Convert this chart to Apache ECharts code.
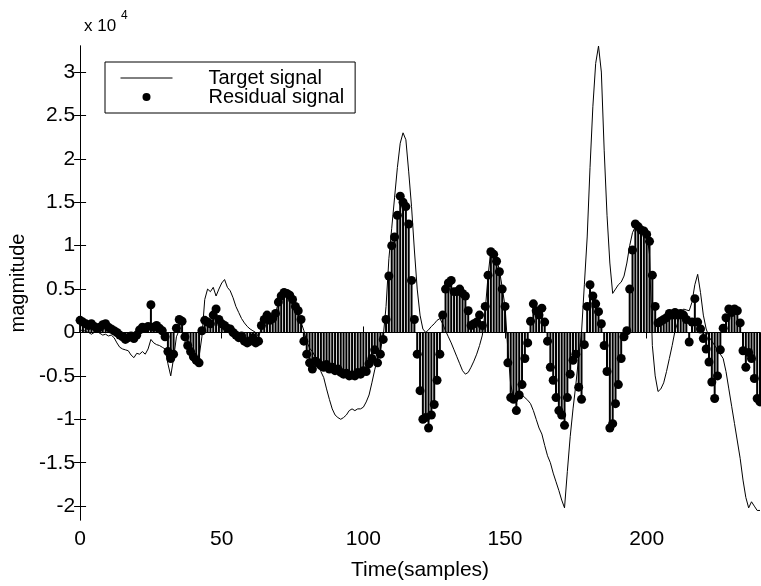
<!DOCTYPE html>
<html><head><meta charset="utf-8">
<script src="https://cdn.jsdelivr.net/npm/echarts@6/dist/echarts.min.js"></script>
<style>html,body{margin:0;padding:0;background:#fff}#c{width:761px;height:586px}</style>
</head><body><div id="c"></div>
<script>
// values in units of 10^4, one per sample t = 0..240
const targetSignal = [
 0.02,0.03,0.01,0.0,-0.02,0.0,0.01,-0.01,-0.03,-0.02,
 -0.04,-0.03,-0.06,-0.12,-0.17,-0.19,-0.2,-0.21,-0.26,-0.29,
 -0.24,-0.25,-0.22,-0.25,-0.19,-0.08,-0.12,-0.14,-0.15,-0.17,
 -0.19,-0.36,-0.5,-0.3,-0.05,0.03,0.0,-0.1,-0.18,-0.25,
 -0.3,-0.32,-0.28,-0.05,0.38,0.5,0.47,0.52,0.42,0.5,
 0.57,0.61,0.52,0.48,0.4,0.3,0.23,0.16,0.11,0.07,
 0.04,0.02,0.0,-0.05,0.05,0.12,0.18,0.15,0.17,0.22,
 0.35,0.42,0.46,0.46,0.43,0.38,0.3,0.22,0.12,0.02,
 -0.1,-0.18,-0.22,-0.28,-0.38,-0.45,-0.52,-0.65,-0.77,-0.88,
 -0.95,-0.98,-1.0,-0.98,-0.95,-0.9,-0.88,-0.9,-0.88,-0.88,
 -0.86,-0.8,-0.72,-0.58,-0.43,-0.3,-0.2,-0.05,0.3,0.85,
 1.2,1.55,1.9,2.18,2.3,2.22,1.85,1.45,0.95,0.5,
 0.2,0.04,0.0,0.03,0.07,0.1,0.14,0.16,0.1,0.02,
 -0.05,-0.12,-0.2,-0.28,-0.36,-0.44,-0.48,-0.46,-0.4,-0.33,
 -0.25,-0.15,-0.03,0.25,0.65,0.95,0.92,0.85,0.72,0.52,
 0.3,-0.2,-0.6,-0.75,-0.8,-0.75,-0.72,-0.75,-0.78,-0.82,
 -0.9,-1.0,-1.1,-1.17,-1.3,-1.42,-1.5,-1.62,-1.72,-1.82,
 -1.93,-2.02,-1.6,-1.2,-0.88,-0.6,-0.28,0.0,0.55,1.1,
 1.9,2.6,3.1,3.3,3.0,2.1,1.35,0.8,0.45,0.5,
 0.55,0.58,0.65,0.8,1.0,1.15,1.22,1.25,1.2,1.18,
 1.15,0.9,-0.15,-0.5,-0.68,-0.65,-0.58,-0.45,-0.3,-0.15,
 0.02,0.12,0.22,0.27,0.26,0.25,0.35,0.55,0.67,0.46,
 0.2,0.04,-0.05,-0.1,-0.15,-0.2,-0.25,-0.3,-0.45,-0.65,
 -0.85,-1.05,-1.25,-1.45,-1.7,-1.9,-2.02,-1.95,-2.0,-2.05,
 -2.05
];
const residualSignal = [
 0.14,0.12,0.1,0.08,0.1,0.07,0.05,0.06,0.09,0.1,
 0.06,0.04,0.02,0.0,-0.03,-0.05,-0.08,-0.06,-0.04,-0.07,
 -0.03,0.03,0.06,0.05,0.07,0.32,0.06,0.08,0.05,0.02,
 -0.05,-0.22,-0.3,-0.25,0.05,0.15,0.13,-0.05,-0.15,-0.22,
 -0.28,-0.32,-0.35,0.02,0.14,0.12,0.1,0.2,0.27,0.15,
 0.1,0.08,0.05,0.04,0.0,-0.03,-0.06,-0.04,-0.1,-0.12,
 -0.1,-0.06,-0.12,-0.1,0.08,0.15,0.2,0.14,0.16,0.22,
 0.35,0.42,0.46,0.45,0.43,0.38,0.3,0.25,0.15,-0.1,
 -0.25,-0.35,-0.42,-0.33,-0.35,-0.38,-0.4,-0.37,-0.42,-0.4,
 -0.44,-0.42,-0.46,-0.48,-0.47,-0.5,-0.49,-0.5,-0.46,-0.48,
 -0.44,-0.45,-0.36,-0.3,-0.2,-0.35,-0.25,-0.08,0.15,0.65,
 1.0,1.1,1.35,1.57,1.5,1.45,1.25,0.6,0.15,-0.25,
 -0.67,-1.0,-0.98,-1.1,-0.95,-0.83,-0.55,-0.25,0.2,0.5,
 0.57,0.6,0.47,0.47,0.5,0.45,0.42,0.25,0.08,0.1,
 0.12,0.2,0.08,0.3,0.66,0.93,0.9,0.82,0.7,0.5,
 0.3,-0.35,-0.75,-0.77,-0.9,-0.72,-0.6,-0.3,-0.12,0.13,
 0.33,0.25,0.2,0.28,0.12,-0.1,-0.4,-0.55,-0.75,-0.9,
 -0.95,-1.07,-0.75,-0.48,-0.32,-0.25,-0.63,-0.77,-0.14,0.3,
 0.55,0.42,0.33,0.24,0.1,-0.15,-0.45,-1.1,-1.05,-0.82,
 -0.6,-0.3,-0.05,0.02,0.5,0.95,1.25,1.22,1.18,1.17,
 1.13,1.05,0.66,0.3,0.11,0.13,0.15,0.17,0.22,0.2,
 0.23,0.2,0.22,0.2,0.15,-0.11,0.12,0.39,0.12,0.04,
 -0.07,-0.19,-0.34,-0.57,-0.76,-0.5,-0.2,0.05,0.17,0.27,
 0.23,0.27,0.25,0.11,-0.21,-0.4,-0.23,-0.3,-0.53,-0.76,
 -0.8
];
const xTickValues = [0, 50, 100, 150, 200];
const yTickValues = [-2, -1.5, -1, -0.5, 0, 0.5, 1, 1.5, 2, 2.5, 3];

const FONT = 'Liberation Sans, Arial, Helvetica, sans-serif';
const targetPts = targetSignal.map((v, i) => [i, v]);
const residualPts = residualSignal.map((v, i) => [i, v]);

const chart = echarts.init(document.getElementById('c'), null, {renderer: 'canvas'});
const axisLine = {show: true, lineStyle: {color: '#000', width: 1}};
chart.setOption({
  animation: false,
  backgroundColor: '#fff',
  grid: {left: 78, top: 46, width: 682, height: 476, containLabel: false},
  xAxis: [{
    type: 'value', min: 0, max: 240, position: 'bottom',
    axisLine: axisLine,
    axisTick: {show: true, inside: true, length: 6, customValues: xTickValues, lineStyle: {color: '#000'}},
    axisLabel: {customValues: xTickValues, color: '#000', fontSize: 21, fontFamily: FONT, margin: 9},
    splitLine: {show: false},
    name: 'Time(samples)', nameLocation: 'middle', nameGap: 40,
    nameTextStyle: {color: '#000', fontSize: 21, fontFamily: FONT}
  }, {
    type: 'value', min: 0, max: 240, position: 'top',
    axisLine: axisLine,
    axisTick: {show: true, inside: true, length: 6, customValues: xTickValues, lineStyle: {color: '#000'}},
    axisLabel: {show: false},
    splitLine: {show: false}
  }],
  yAxis: [{
    type: 'value', min: -2.16, max: 3.3, position: 'left',
    axisLine: axisLine,
    axisTick: {show: true, inside: true, length: 6, customValues: yTickValues, lineStyle: {color: '#000'}},
    axisLabel: {customValues: yTickValues, color: '#000', fontSize: 21, fontFamily: FONT, margin: 5,
      formatter: v => String(v)},
    splitLine: {show: false},
    name: 'magmitude', nameLocation: 'middle', nameGap: 46, nameRotate: 90,
    nameTextStyle: {color: '#000', fontSize: 20, fontFamily: FONT}
  }, {
    type: 'value', min: -2.16, max: 3.3, position: 'right',
    axisLine: axisLine,
    axisTick: {show: true, inside: true, length: 6, customValues: yTickValues, lineStyle: {color: '#000'}},
    axisLabel: {show: false},
    splitLine: {show: false}
  }],
  legend: {
    left: 105, top: 62, orient: 'vertical',
    padding: [6, 11, 6, 15], itemGap: -1, itemWidth: 52, itemHeight: 8,
    borderColor: '#000', borderWidth: 1, backgroundColor: '#fff',
    data: [
      {name: 'Target signal', itemStyle: {opacity: 0}, lineStyle: {width: 1}},
      {name: 'Residual signal'}
    ],
    formatter: name => '{g| }' + name,
    textStyle: {color: '#000', fontSize: 20, fontFamily: FONT, rich: {g: {width: 31}}}
  },
  graphic: [
    {type: 'text', left: 84, top: 18, style: {text: 'x 10', font: '17px ' + FONT, fill: '#000'}},
    {type: 'text', left: 121, top: 10, style: {text: '4', font: '12px ' + FONT, fill: '#000'}}
  ],
  series: [{
    name: 'Target signal', type: 'line', data: targetPts,
    symbol: 'none', smooth: false,
    lineStyle: {color: '#000', width: 1}, itemStyle: {color: '#000'}, z: 2
  }, {
    name: 'stems', type: 'bar', data: residualPts, barWidth: 2,
    itemStyle: {color: '#000'}, z: 3
  }, {
    name: 'Residual signal', type: 'scatter', data: residualPts,
    symbol: 'circle', symbolSize: 9, itemStyle: {color: '#000', opacity: 1}, z: 4
  }]
});
</script>
</body></html>
